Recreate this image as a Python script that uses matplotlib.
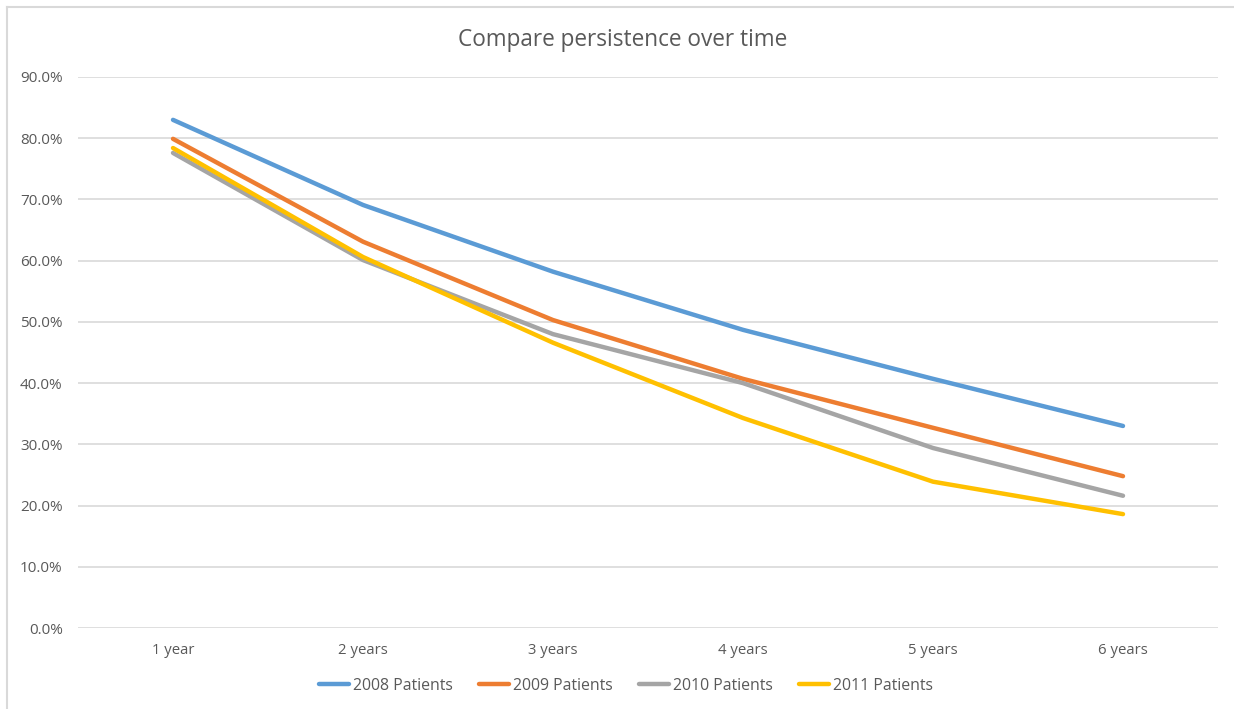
import matplotlib.pyplot as plt
from matplotlib.lines import Line2D
from matplotlib.ticker import FuncFormatter

categories = ['1 year', '2 years', '3 years', '4 years', '5 years', '6 years']
series_names = ['2008 Patients', '2009 Patients', '2010 Patients', '2011 Patients']
p2008 = [83.0, 69.1, 58.2, 48.7, 40.7, 33.0]
p2009 = [79.9, 63.1, 50.3, 40.7, 32.7, 24.8]
p2010 = [77.6, 60.1, 48.0, 40.0, 29.4, 21.6]
p2011 = [78.4, 60.6, 46.6, 34.3, 23.9, 18.6]

colors = ['#5b9bd5', '#ed7d31', '#a5a5a5', '#ffc000']
text_color = '#595959'
grid_color = '#d9d9d9'

plt.rcParams['font.family'] = ['Open Sans', 'DejaVu Sans']

W, H = 1234, 709
fig = plt.figure(figsize=(W / 100, H / 100), dpi=100)
ax = fig.add_axes([78 / W, 1 - 628 / H, (1218 - 78) / W, (628 - 77) / H])

x = list(range(len(categories)))
for name, vals, c in zip(series_names, [p2008, p2009, p2010, p2011], colors):
    ax.plot(x, [v / 100 for v in vals], color=c, linewidth=3.2,
            solid_capstyle='round', label=name, zorder=3)

ax.set_xlim(-0.5, len(categories) - 0.5)
ax.set_ylim(0, 0.9)
ax.set_yticks([i / 10 for i in range(10)])
ax.yaxis.set_major_formatter(FuncFormatter(lambda v, p: f'{v * 100:.1f}%'))
ax.set_xticks(x)
ax.set_xticklabels(categories)
ax.grid(True, axis='y', color=grid_color, linewidth=1.2, zorder=0)
for s in ax.spines.values():
    s.set_visible(False)
ax.tick_params(axis='both', length=0, colors=text_color)
ax.tick_params(axis='x', pad=11, labelsize=10.7)
ax.tick_params(axis='y', pad=11, labelsize=11)

fig.text(623 / W, 1 - 40 / H, 'Compare persistence over time', ha='center',
         va='center', fontsize=16.3, color=text_color)

leg = fig.legend(loc='center', bbox_to_anchor=(626 / W, 1 - 686 / H), ncol=4,
                 frameon=False, fontsize=11.4, handlelength=1.9, handletextpad=0.2,
                 columnspacing=1.7)
for t in leg.get_texts():
    t.set_color(text_color)

# chart area border (top and left edges visible)
fig.add_artist(Line2D([7 / W, 1], [1 - 7 / H, 1 - 7 / H], color=grid_color,
                      linewidth=1.5, transform=fig.transFigure))
fig.add_artist(Line2D([7 / W, 7 / W], [0, 1 - 7 / H], color=grid_color,
                      linewidth=1.5, transform=fig.transFigure))

fig.savefig('out.png', dpi=100)
